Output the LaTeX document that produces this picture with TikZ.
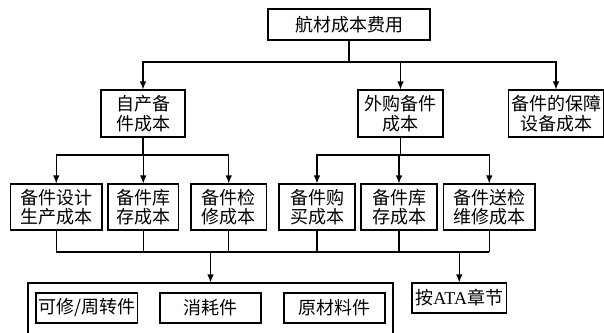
\documentclass[tikz,border=0pt]{standalone}
\usepackage{fontspec}
\setmainfont{Liberation Serif}
\newfontfamily\cjk{Noto Sans CJK SC}
\usetikzlibrary{arrows.meta}
\begin{document}
\begin{tikzpicture}[x=1pt,y=-1pt,
  box/.style={draw, line width=1.1pt, inner sep=0pt, align=center,
    font=\cjk\fontsize{18}{19.5}\selectfont},
  ln/.style={line width=1.1pt},
  arr/.style={line width=1.1pt, -{Latex[length=8pt,width=6.5pt]}}]
\useasboundingbox (0,0) rectangle (604,332);
\clip (0,0) rectangle (604,332);
% top
\node[box, minimum width=162pt, minimum height=31pt] (top) at (349,24.5) {航材成本费用};
% level 2
\node[box, minimum width=84pt, minimum height=47pt] (A) at (143,113.5) {自产备\\件成本};
\node[box, minimum width=85pt, minimum height=47pt] (B) at (400.5,113.5) {外购备件\\成本};
\node[box, minimum width=95pt, minimum height=47pt] (C) at (556,113.5) {备件的保障\\设备成本};
% level 3
\node[box, minimum width=91.5pt, minimum height=46pt] (a1) at (56.25,207) {备件设计\\生产成本};
\node[box, minimum width=70.5pt, minimum height=46pt] (a2) at (143.25,207) {备件库\\存成本};
\node[box, minimum width=75.5pt, minimum height=46pt] (a3) at (228.75,207) {备件检\\修成本};
\node[box, minimum width=76pt, minimum height=46pt] (b1) at (317,207) {备件购\\买成本};
\node[box, minimum width=76pt, minimum height=46pt] (b2) at (399,207) {备件库\\存成本};
\node[box, minimum width=91.5pt, minimum height=46pt] (b3) at (489.25,207) {备件送检\\维修成本};
% bottom
\node[box, minimum width=365pt, minimum height=62pt] (big) at (210.5,314) {};
\node[box, minimum width=101.5pt, minimum height=30pt] (i1) at (86.75,308) {可修/周转件};
\node[box, minimum width=101pt, minimum height=30pt] (i2) at (210.5,308) {消耗件};
\node[box, minimum width=101pt, minimum height=30pt] (i3) at (334.5,308) {原材料件};
\node[box, minimum width=94.5pt, minimum height=30pt] (ata) at (459.25,298) {按{\rmfamily ATA}章节};
% connectors level 1 -> 2
\coordinate (j1) at (349,62);
\draw[ln] (top) -- (j1);
\draw[arr] (j1) -| (A);
\draw[arr] (j1) -| (B);
\draw[arr] (j1) -| (C);
% A -> a*
\coordinate (ja) at (143,155);
\draw[ln] (A) -- (ja);
\draw[arr] (ja) -| (a1);
\draw[arr] (ja) -| (a2);
\draw[arr] (ja) -| (a3);
% B -> b*
\coordinate (jb) at (400.5,155);
\draw[ln] (B) -- (jb);
\draw[arr] (jb) -| (b1);
\draw[arr] (jb) -| (b2);
\draw[arr] (jb) -| (b3);
% bottom bus
\coordinate (bl) at (56.25,252);
\coordinate (br) at (489.25,252);
\draw[ln] (bl) -- (br);
\foreach \n in {a1,a2,a3,b1,b2,b3} \draw[ln] (\n) -- (\n |- bl);
\coordinate (k1) at (210.5,252);
\coordinate (k2) at (459.25,252);
\draw[arr] (k1) -- (big);
\draw[arr] (k2) -- (ata);
\end{tikzpicture}
\end{document}
